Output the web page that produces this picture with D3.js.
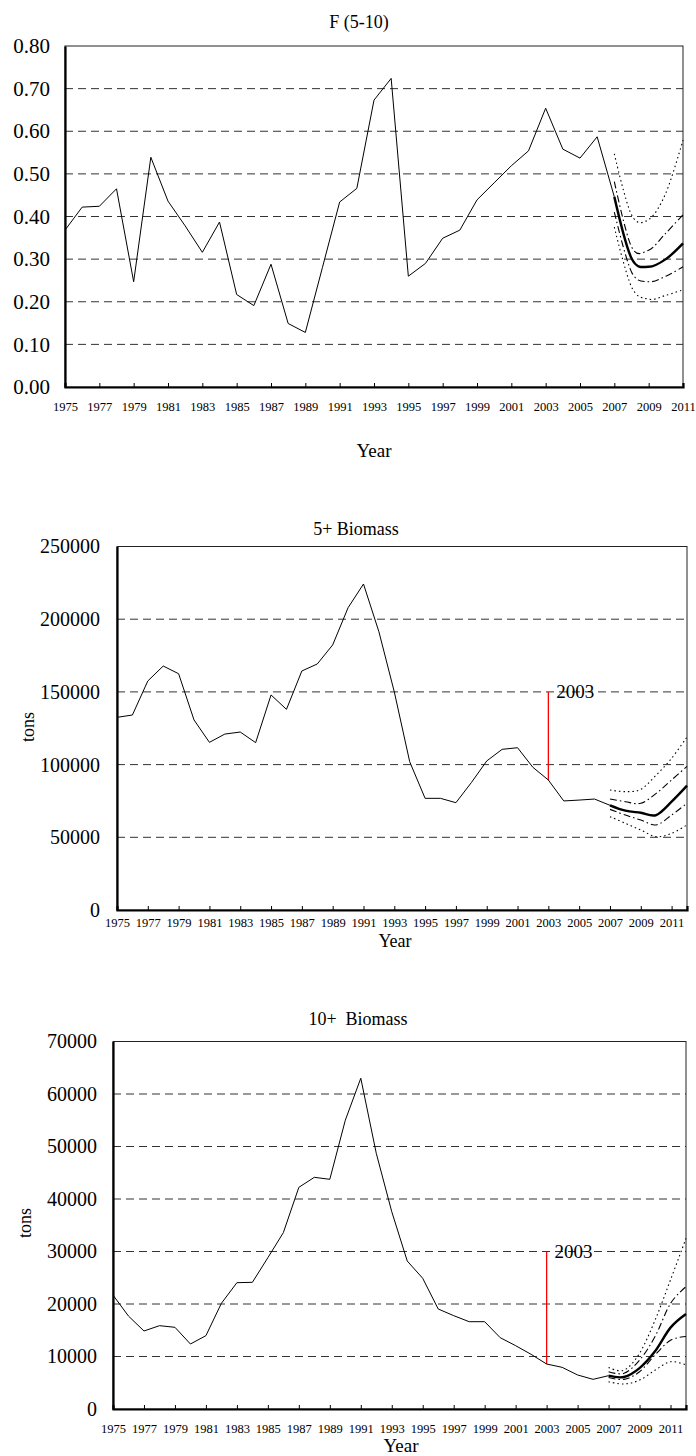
<!DOCTYPE html>
<html><head><meta charset="utf-8">
<script src="https://cdn.jsdelivr.net/npm/d3@7"></script>
<style>
body{margin:0;background:#fff}
svg{display:block}
text{font-family:"Liberation Serif","Times New Roman",serif;fill:#000}
</style>
</head><body>
<svg id="c" width="696" height="1456"></svg>
<script>
// ---------------- DATA ----------------
const histYears = d3.range(1975, 2008); // 1975..2007

const fHist = [0.368,0.422,0.424,0.465,0.247,0.539,0.436,0.378,0.316,0.387,
  0.217,0.191,0.288,0.149,0.128,0.281,0.434,0.466,0.673,0.724,
  0.260,0.290,0.349,0.368,0.439,0.479,0.519,0.554,0.654,0.558,
  0.537,0.587,0.446];
const fProjYears = [2007,2008,2009,2010,2011];
const fCentral   = [0.446,0.302,0.282,0.300,0.337];
const fUpperDot  = [0.547,0.404,0.393,0.455,0.579];
const fUpperDash = [0.482,0.329,0.321,0.361,0.404];
const fLowerDash = [0.410,0.270,0.247,0.260,0.282];
const fLowerDot  = [0.375,0.235,0.206,0.215,0.228];

const b5Hist = [132500,134100,157500,167800,162500,130700,115300,121000,122400,115100,
  147900,138000,164400,169200,182300,207900,224200,191400,150000,102000,
  76800,76800,73800,87600,102500,110500,111600,98100,89400,75000,
  75600,76300,72000];
const bProjYears = [2007,2008,2009,2010,2011,2012];
const b5Central   = [72000,68300,66900,65300,74500,85500];
const b5UpperDot  = [82500,81400,83000,92800,104300,119000];
const b5UpperDash = [76300,74500,73400,80200,89400,98800];
const b5LowerDash = [69200,65300,61900,58500,65300,73400];
const b5LowerDot  = [64200,59600,55000,50400,52700,58500];

const b10Hist = [21700,17700,14860,15870,15560,12380,13970,20130,24060,24130,
  28820,33590,42220,44130,43750,55000,63000,48700,37580,28190,
  24890,19050,17780,16630,16630,13590,12060,10410,8570,7940,
  6480,5650,6350];
const b10Central   = [6350,6100,7800,11000,15500,18100];
const b10UpperDot  = [7900,7400,10600,16900,24600,32500];
const b10UpperDash = [7100,6800,9300,13800,20100,23300];
const b10LowerDash = [6000,5650,7100,10300,13100,13800];
const b10LowerDot  = [5200,4760,5500,7400,9000,8400];

const xTickYears = d3.range(1975, 2012, 2);
const fTicks  = [0,0.1,0.2,0.3,0.4,0.5,0.6,0.7,0.8];
const b5Ticks = [0,50000,100000,150000,200000,250000];
const b10Ticks= [0,10000,20000,30000,40000,50000,60000,70000];
const markerYear = 2003;
const markerLabel = "2003";

// ---------------- DRAW ----------------
const svg = d3.select("#c");

function panel(o){
  const g = svg.append("g");
  const x = d3.scaleLinear().domain(o.xDomain).range([o.left, o.right]);
  const y = d3.scaleLinear().domain([o.yTicks[0], o.yTicks[o.yTicks.length-1]]).range([o.bottom, o.top]);

  // gridlines
  g.selectAll("line.grid").data(o.yTicks.slice(1, -1)).join("line")
    .attr("x1", o.left).attr("x2", o.right)
    .attr("y1", d=>y(d)).attr("y2", d=>y(d))
    .attr("stroke", "#333").attr("stroke-width", 1)
    .attr("stroke-dasharray", "8,5");

  // frame (top/right)
  g.append("rect").attr("x", o.left).attr("y", o.top)
    .attr("width", o.right-o.left).attr("height", o.bottom-o.top)
    .attr("fill", "none").attr("stroke", "#222").attr("stroke-width", 1);

  // y axis
  const ya = d3.axisLeft(y).tickValues(o.yTicks).tickSize(0).tickPadding(o.left - o.yLabelX)
    .tickFormat(o.yFormat);
  const yg = g.append("g").attr("transform", `translate(${o.left},0)`).call(ya);
  yg.select(".domain").attr("stroke", "#000").attr("stroke-width", 2.2);
  yg.selectAll("text").attr("font-size", o.yFontSize).attr("font-family", '"Liberation Serif",serif').attr("fill","#000");

  // x axis
  const xa = d3.axisBottom(x).tickValues(xTickYears).tickSize(-4).tickPadding(0)
    .tickFormat(d3.format("d"));
  const xg = g.append("g").attr("transform", `translate(0,${o.bottom})`).call(xa);
  xg.select(".domain").attr("stroke", "#000").attr("stroke-width", 2.2);
  xg.selectAll(".tick line").attr("stroke", "#000");
  xg.selectAll("text").attr("font-size", o.xFontSize).attr("font-family", '"Liberation Serif",serif')
    .attr("fill","#000").attr("y", o.xLabelOffset).attr("dy", 0);

  // marker
  if (o.marker){
    g.append("line").attr("x1", x(markerYear)).attr("x2", x(markerYear))
      .attr("y1", y(o.marker.from)).attr("y2", y(o.marker.to))
      .attr("stroke", "#ff0000").attr("stroke-width", 1.3);
  }

  // historical line
  const line = d3.line().x(d=>x(d[0])).y(d=>y(d[1]));
  g.append("path").attr("d", line(d3.zip(histYears, o.hist)))
    .attr("fill", "none").attr("stroke", "#000").attr("stroke-width", 1);

  // projections
  const sm = d3.line().x(d=>x(d[0])).y(d=>y(d[1])).curve(d3.curveCardinal.tension(0));
  const styles = [
    [o.proj.upperDot, 1.1, "1.5,3"],
    [o.proj.lowerDot, 1.1, "1.5,3"],
    [o.proj.upperDash, 1.1, "7,3,1.5,3"],
    [o.proj.lowerDash, 1.1, "7,3,1.5,3"],
    [o.proj.central, 2.4, null]
  ];
  styles.forEach(([vals, w, da])=>{
    const p = g.append("path").attr("d", sm(d3.zip(o.projYears, vals)))
      .attr("fill", "none").attr("stroke", "#000").attr("stroke-width", w);
    if (da) p.attr("stroke-dasharray", da);
  });

  if (o.marker){
    g.append("text").attr("x", x(markerYear)+8).attr("y", y(o.marker.to)+6)
      .attr("font-size", 19).text(markerLabel);
  }

  // title
  g.append("text").attr("x", o.titleX).attr("y", o.titleY).attr("text-anchor","middle")
    .attr("font-size", 18).attr("xml:space","preserve").style("white-space","pre").text(o.title);
  // x title
  g.append("text").attr("x", o.yearX).attr("y", o.yearY).attr("text-anchor","middle")
    .attr("font-size", o.yearFont).text("Year");
  if (o.yTitle){
    g.append("text").attr("transform", `translate(${o.yTitleX},${o.yTitleY}) rotate(-90)`)
      .attr("text-anchor","middle").attr("font-size", 18).text(o.yTitle);
  }
}

panel({
  left:65, right:683, top:46, bottom:387, xDomain:[1975,2011],
  yTicks:fTicks, yFormat:d3.format(".2f"), yLabelX:50, yFontSize:21, xFontSize:12.5, xLabelOffset:24,
  hist:fHist, projYears:fProjYears,
  proj:{central:fCentral, upperDot:fUpperDot, upperDash:fUpperDash, lowerDash:fLowerDash, lowerDot:fLowerDot},
  title:"F (5-10)", titleX:359, titleY:28, yearX:374, yearY:457, yearFont:19
});

panel({
  left:117, right:687, top:546.5, bottom:910, xDomain:[1975,2012],
  yTicks:b5Ticks, yFormat:d3.format("d"), yLabelX:100, yFontSize:20, xFontSize:12.5, xLabelOffset:17,
  hist:b5Hist, projYears:bProjYears,
  proj:{central:b5Central, upperDot:b5UpperDot, upperDash:b5UpperDash, lowerDash:b5LowerDash, lowerDot:b5LowerDot},
  marker:{from:89400, to:150000},
  title:"5+ Biomass", titleX:356, titleY:535, yearX:395, yearY:947, yearFont:18,
  yTitle:"tons", yTitleX:34, yTitleY:727
});

panel({
  left:113, right:686, top:1041.5, bottom:1409, xDomain:[1975,2012],
  yTicks:b10Ticks, yFormat:d3.format("d"), yLabelX:97, yFontSize:20, xFontSize:12.5, xLabelOffset:24,
  hist:b10Hist, projYears:bProjYears,
  proj:{central:b10Central, upperDot:b10UpperDot, upperDash:b10UpperDash, lowerDash:b10LowerDash, lowerDot:b10LowerDot},
  marker:{from:8570, to:30000},
  title:"10+  Biomass", titleX:358, titleY:1025, yearX:401, yearY:1452, yearFont:19,
  yTitle:"tons", yTitleX:31, yTitleY:1223
});
</script>
</body></html>
